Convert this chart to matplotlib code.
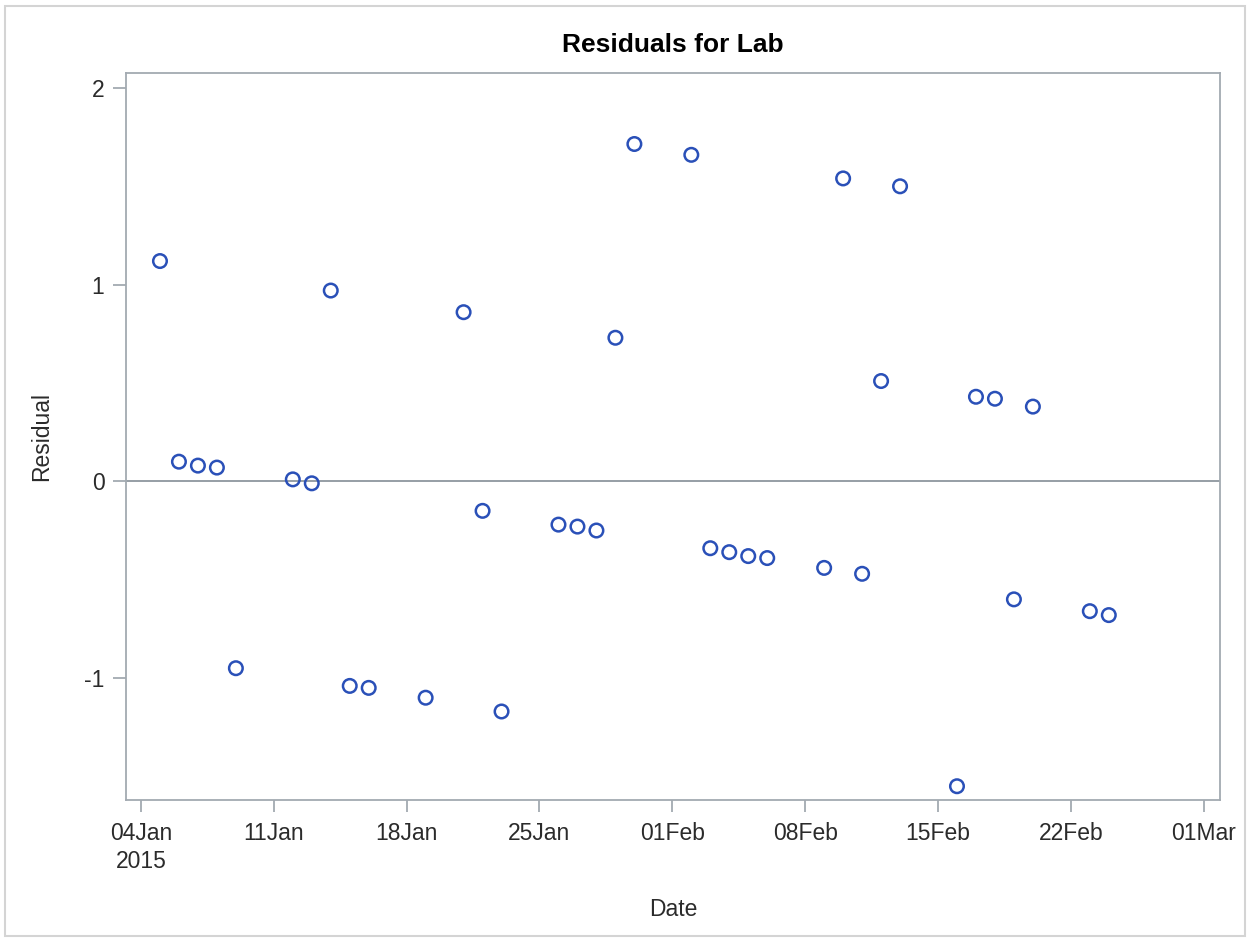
import matplotlib
matplotlib.use("Agg")
import matplotlib.pyplot as plt
import matplotlib.dates as mdates
import matplotlib.patches as mpatches
import datetime as dt

plt.rcParams['font.family'] = ['Liberation Sans', 'DejaVu Sans']

# residuals by day
dates = [
    "2015-01-05", "2015-01-06", "2015-01-07", "2015-01-08", "2015-01-09",
    "2015-01-12", "2015-01-13", "2015-01-14", "2015-01-15", "2015-01-16",
    "2015-01-19", "2015-01-21", "2015-01-22", "2015-01-23", "2015-01-26",
    "2015-01-27", "2015-01-28", "2015-01-29", "2015-01-30", "2015-02-02",
    "2015-02-03", "2015-02-04", "2015-02-05", "2015-02-06", "2015-02-09",
    "2015-02-10", "2015-02-11", "2015-02-12", "2015-02-13", "2015-02-16",
    "2015-02-17", "2015-02-18", "2015-02-19", "2015-02-20", "2015-02-23",
    "2015-02-24",
]
residuals = [
    1.12, 0.10, 0.08, 0.07, -0.95,
    0.01, -0.01, 0.97, -1.04, -1.05,
    -1.10, 0.86, -0.15, -1.17, -0.22,
    -0.23, -0.25, 0.73, 1.715, 1.66,
    -0.34, -0.36, -0.38, -0.39, -0.44,
    1.54, -0.47, 0.51, 1.50, -1.55,
    0.43, 0.42, -0.60, 0.38, -0.66,
    -0.68,
]
tick_dates = ["2015-01-04", "2015-01-11", "2015-01-18", "2015-01-25",
              "2015-02-01", "2015-02-08", "2015-02-15", "2015-02-22", "2015-03-01"]
tick_labels = ["04Jan\n2015", "11Jan", "18Jan", "25Jan", "01Feb",
               "08Feb", "15Feb", "22Feb", "01Mar"]

x = [dt.datetime.strptime(d, "%Y-%m-%d") for d in dates]
xt = [dt.datetime.strptime(d, "%Y-%m-%d") for d in tick_dates]

frame = '#a3aab1'
text_c = '#2b2b2b'

fig = plt.figure(figsize=(12.51, 9.42), dpi=100)
ax = fig.add_axes([126/1251, 1 - 800/942, (1220-126)/1251, (800-73)/942])

ax.axhline(0, color='#8d969e', lw=1.3, zorder=1)
ax.scatter(x, residuals, s=95, facecolors='none', edgecolors='#2a50b8',
           linewidths=1.8, zorder=3)

ax.set_xlim(mdates.date2num(xt[0]) - 0.79, mdates.date2num(xt[-1]) + 0.86)
ax.set_ylim(-1.62, 2.076)

ax.set_xticks(xt)
ax.set_xticklabels(tick_labels, fontsize=16.5, color=text_c, linespacing=1.3)
ax.set_yticks([-1, 0, 1, 2])
ax.set_yticklabels(["-1", "0", "1", "2"], fontsize=16.5, color=text_c)

for s in ax.spines.values():
    s.set_color(frame)
    s.set_linewidth(1.3)
ax.tick_params(axis='x', color=frame, length=8.5, width=1.3, pad=7)
ax.tick_params(axis='y', color=frame, length=9.5, width=1.3, pad=6)

ax.set_title("Residuals for Lab", fontsize=19, fontweight='bold', color='black', pad=15)
ax.set_xlabel("Date", fontsize=16.5, color=text_c, labelpad=18)
ax.set_ylabel("Residual", fontsize=16.5, color=text_c, labelpad=22)

# light outer border
fig.patches.append(mpatches.Rectangle((5/1251, 1 - 936/942), 1240/1251, 930/942,
                                      transform=fig.transFigure, fill=False,
                                      edgecolor='#d4d4d4', lw=1.5))

fig.savefig("out.png", dpi=100)
